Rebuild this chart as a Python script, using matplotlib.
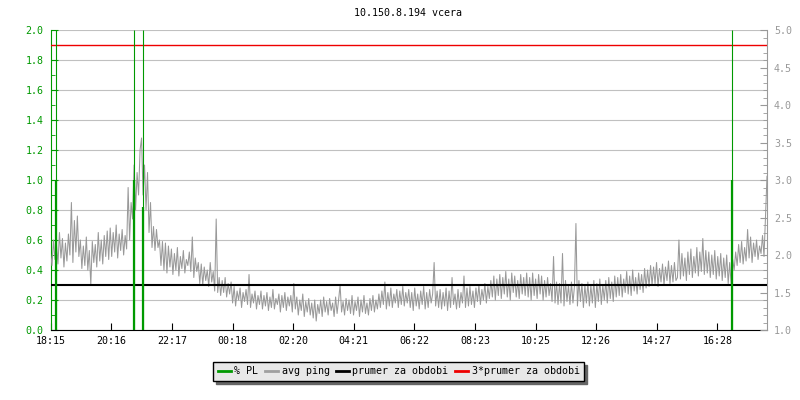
import numpy as np
import matplotlib
matplotlib.use('Agg')
import matplotlib.pyplot as plt

title = '10.150.8.194 vcera'
tick_hours = [0, 2.04, 4.07, 6.1, 8.13, 10.16, 12.19, 14.22, 16.25, 18.28, 20.31, 22.34]
tick_labels = ['18:15', '20:16', '22:17', '00:18', '02:20', '04:21',
               '06:22', '08:23', '10:25', '12:26', '14:27', '16:28']

# % PL spikes (hours from 18:15, value on the left axis)
pl_hours = [0.17, 2.81, 3.10, 22.82]
pl_values = [1.0, 1.0, 0.82, 1.0]

# avg ping, one sample every 3 minutes (right axis), one row per hour
ping = [
    2.02, 1.86, 2.20, 1.94, 2.14, 1.88, 2.30, 1.96, 2.22, 1.84, 2.16, 1.92, 2.28, 2.00, 2.70, 1.90, 2.46, 2.04, 2.52, 1.98,
    2.20, 1.82, 2.12, 1.86, 2.24, 1.80, 2.06, 1.60, 2.18, 1.90, 2.14, 1.84, 2.30, 1.92, 2.20, 1.88, 2.26, 1.98, 2.32, 1.94,
    2.36, 1.98, 2.30, 2.04, 2.40, 1.96, 2.28, 2.06, 2.34, 2.00, 2.26, 2.08, 2.90, 2.20, 2.70, 2.48, 3.20, 2.60, 3.10, 2.80,
    3.40, 3.56, 2.80, 3.20, 2.60, 3.10, 2.30, 2.70, 2.10, 2.38, 2.06, 2.34, 2.10, 2.20, 1.86, 2.18, 1.80, 2.16, 1.76, 2.12,
    1.84, 2.08, 1.74, 2.02, 1.80, 2.10, 1.72, 1.98, 1.82, 2.06, 1.76, 1.94, 1.86, 2.04, 1.78, 2.24, 1.70, 1.96, 1.78, 1.90,
    1.62, 1.88, 1.60, 1.84, 1.66, 1.80, 1.58, 1.90, 1.64, 1.78, 1.52, 2.48, 1.50, 1.70, 1.46, 1.66, 1.50, 1.70, 1.44, 1.62,
    1.48, 1.64, 1.36, 1.58, 1.32, 1.52, 1.40, 1.56, 1.30, 1.50, 1.38, 1.54, 1.34, 1.74, 1.30, 1.48, 1.36, 1.52, 1.28, 1.46,
    1.34, 1.52, 1.28, 1.46, 1.32, 1.50, 1.26, 1.44, 1.30, 1.54, 1.28, 1.42, 1.34, 1.48, 1.24, 1.46, 1.30, 1.50, 1.26, 1.44,
    1.32, 1.46, 1.24, 1.62, 1.28, 1.44, 1.20, 1.40, 1.26, 1.48, 1.18, 1.38, 1.24, 1.42, 1.20, 1.36, 1.16, 1.40, 1.12, 1.34,
    1.22, 1.40, 1.18, 1.44, 1.24, 1.38, 1.20, 1.42, 1.26, 1.36, 1.18, 1.44, 1.22, 1.40, 1.60, 1.24, 1.38, 1.20, 1.42, 1.26,
    1.40, 1.22, 1.46, 1.20, 1.38, 1.26, 1.44, 1.18, 1.40, 1.24, 1.46, 1.22, 1.36, 1.20, 1.42, 1.26, 1.46, 1.24, 1.40, 1.28,
    1.48, 1.30, 1.52, 1.34, 1.64, 1.28, 1.50, 1.32, 1.56, 1.30, 1.48, 1.36, 1.54, 1.30, 1.52, 1.34, 1.58, 1.32, 1.50, 1.36,
    1.54, 1.30, 1.50, 1.26, 1.56, 1.32, 1.48, 1.28, 1.52, 1.34, 1.58, 1.28, 1.50, 1.30, 1.54, 1.36, 1.48, 1.90, 1.32, 1.52,
    1.30, 1.54, 1.28, 1.50, 1.32, 1.56, 1.26, 1.52, 1.30, 1.70, 1.34, 1.48, 1.28, 1.54, 1.30, 1.50, 1.36, 1.72, 1.30, 1.56,
    1.32, 1.58, 1.34, 1.52, 1.30, 1.56, 1.38, 1.60, 1.34, 1.54, 1.40, 1.62, 1.36, 1.58, 1.42, 1.66, 1.44, 1.72, 1.40, 1.68,
    1.46, 1.74, 1.42, 1.70, 1.48, 1.78, 1.44, 1.68, 1.40, 1.76, 1.50, 1.72, 1.44, 1.66, 1.42, 1.74, 1.48, 1.70, 1.46, 1.76,
    1.44, 1.70, 1.40, 1.76, 1.46, 1.68, 1.42, 1.74, 1.48, 1.72, 1.40, 1.66, 1.44, 1.70, 1.46, 1.62, 1.38, 1.98, 1.36, 1.64,
    1.34, 1.62, 1.36, 2.02, 1.32, 1.66, 1.38, 1.60, 1.34, 1.64, 1.36, 1.58, 2.42, 1.32, 1.66, 1.38, 1.62, 1.30, 1.60, 1.36,
    1.64, 1.32, 1.60, 1.36, 1.66, 1.30, 1.62, 1.38, 1.68, 1.34, 1.60, 1.40, 1.66, 1.36, 1.70, 1.42, 1.64, 1.38, 1.72, 1.44,
    1.70, 1.46, 1.74, 1.44, 1.68, 1.50, 1.78, 1.48, 1.72, 1.46, 1.80, 1.52, 1.70, 1.48, 1.76, 1.54, 1.74, 1.50, 1.82, 1.56,
    1.80, 1.58, 1.86, 1.60, 1.84, 1.62, 1.90, 1.58, 1.82, 1.64, 1.88, 1.60, 1.84, 1.66, 1.92, 1.62, 1.86, 1.64, 1.90, 1.66,
    1.70, 2.20, 1.68, 2.02, 1.72, 1.96, 1.66, 2.04, 1.74, 2.08, 1.70, 1.98, 1.76, 2.10, 1.72, 2.04, 1.78, 2.22, 1.74, 2.06,
    1.76, 2.04, 1.70, 2.00, 1.74, 2.06, 1.68, 1.98, 1.72, 2.02, 1.66, 1.96, 1.70, 2.00, 1.62, 1.90, 1.60, 1.94, 1.80, 2.04,
    1.86, 2.14, 1.90, 2.18, 1.88, 2.10, 1.92, 2.34, 1.96, 2.24, 1.90, 2.16, 1.98, 2.20, 1.94, 2.12, 2.02, 2.26, 1.98, 2.50,
    3.05,
]
ping_hours = np.arange(len(ping)) * 0.05
ping_mean = 1.6

GREEN = '#009900'
GREY = '#999999'
RED = '#ee0000'
FONT = 'DejaVu Sans Mono'
FS = 7.2

plt.rcParams['font.family'] = FONT
fig = plt.figure(figsize=(8, 4), dpi=100)
ax = fig.add_axes([50.5 / 800, 70 / 400, 716.5 / 800, 300 / 400])
ax2 = ax.twinx()

ax.set_xlim(0, 24)
ax.set_ylim(0, 2.0)
ax2.set_ylim(1.0, 5.0)

ax.set_yticks(np.arange(0, 2.01, 0.2))
ax.set_yticks(np.arange(0, 2.01, 0.1), minor=True)
ax.set_yticklabels([f'{v:.1f}' for v in np.arange(0, 2.01, 0.2)])
ax2.set_yticks(np.arange(1.0, 5.01, 0.5))
ax2.set_yticks(np.arange(1.0, 5.01, 0.1), minor=True)
ax2.set_yticklabels([f'{v:.1f}' for v in np.arange(1.0, 5.01, 0.5)])
ax.set_xticks(tick_hours)
ax.set_xticklabels(tick_labels)

ax.grid(axis='y', color='#c0c0c0', lw=0.8)
ax.set_axisbelow(True)

# avg ping + means on the right axis
ax2.plot(ping_hours, ping, color=GREY, lw=0.75, zorder=2)
ax2.axhline(ping_mean, color='black', lw=1.5, zorder=3)
ax2.axhline(3 * ping_mean, color=RED, lw=1.0, zorder=3)

# % PL drawn on top using left-axis coordinates
ax2.vlines(pl_hours, 0, 2.0, color=GREEN, lw=0.8, transform=ax.transData, zorder=4)
ax2.vlines(pl_hours, 0, pl_values, color=GREEN, lw=1.6, transform=ax.transData, zorder=4)

for a in (ax, ax2):
    a.spines['top'].set_visible(False)
ax.spines['left'].set_color(GREEN)
ax.spines['bottom'].set_color('black')
ax2.spines['left'].set_visible(False)
ax2.spines['bottom'].set_visible(False)
ax2.spines['right'].set_color(GREY)
ax.spines['right'].set_visible(False)

ax.tick_params(axis='y', which='major', direction='in', length=5, color=GREEN,
               labelcolor=GREEN, labelsize=FS, pad=5)
ax.tick_params(axis='y', which='minor', direction='in', length=3, color=GREEN)
ax.tick_params(axis='x', direction='in', length=5, color='black', labelsize=FS, pad=4)
ax2.tick_params(axis='y', which='major', direction='in', length=5, color=GREY,
                labelcolor=GREY, labelsize=FS, pad=5)
ax2.tick_params(axis='y', which='minor', direction='in', length=3, color=GREY)

fig.text(408.5 / 800, 1 - 13 / 400, title, ha='center', va='center', fontsize=FS)

handles = [
    plt.Line2D([], [], color=GREEN, lw=2),
    plt.Line2D([], [], color='#a0a0a0', lw=2),
    plt.Line2D([], [], color='black', lw=2),
    plt.Line2D([], [], color=RED, lw=2),
]
labels = ['% PL', 'avg ping', 'prumer za obdobi', '3*prumer za obdobi']
leg = fig.legend(handles, labels, loc='center', bbox_to_anchor=(398.5 / 800, 1 - 371 / 400),
                 ncol=4, fontsize=FS, handlelength=1.3, handletextpad=0.4,
                 columnspacing=0.6, borderpad=0.45, fancybox=False, framealpha=1,
                 shadow={'ox': 2.2, 'oy': -2.2, 'facecolor': '#666666', 'edgecolor': '#666666', 'alpha': 1})
leg.get_frame().set_facecolor('#e8e8e8')
leg.get_frame().set_edgecolor('black')
leg.get_frame().set_linewidth(1)

fig.savefig('out.png', dpi=100)
